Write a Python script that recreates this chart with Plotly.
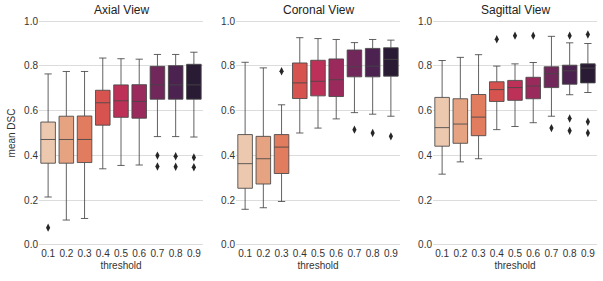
import plotly.graph_objects as go

thresholds = ["0.1", "0.2", "0.3", "0.4", "0.5", "0.6", "0.7", "0.8", "0.9"]
views = ["Axial View", "Coronal View", "Sagittal View"]

# Axial
axial_low = [0.214, 0.111, 0.118, 0.340, 0.355, 0.357, 0.484, 0.484, 0.482]
axial_q1 = [0.365, 0.365, 0.368, 0.535, 0.570, 0.566, 0.651, 0.651, 0.651]
axial_med = [0.471, 0.471, 0.471, 0.635, 0.644, 0.641, 0.715, 0.715, 0.715]
axial_q3 = [0.549, 0.575, 0.576, 0.691, 0.715, 0.716, 0.798, 0.801, 0.807]
axial_high = [0.764, 0.775, 0.775, 0.835, 0.832, 0.830, 0.851, 0.851, 0.861]
axial_out = [[0.077], [], [], [], [], [], [0.399, 0.350], [0.396, 0.349], [0.391, 0.347]]

# Coronal
coronal_low = [0.159, 0.166, 0.194, 0.500, 0.522, 0.563, 0.591, 0.584, 0.575]
coronal_q1 = [0.253, 0.272, 0.319, 0.654, 0.666, 0.663, 0.751, 0.751, 0.754]
coronal_med = [0.363, 0.385, 0.437, 0.724, 0.731, 0.738, 0.796, 0.799, 0.829]
coronal_q3 = [0.493, 0.485, 0.493, 0.813, 0.825, 0.831, 0.871, 0.878, 0.881]
coronal_high = [0.816, 0.791, 0.626, 0.926, 0.922, 0.918, 0.904, 0.918, 0.915]
coronal_out = [[], [], [0.776], [], [], [], [0.515], [0.500], [0.485]]

# Sagittal
sagittal_low = [0.316, 0.371, 0.385, 0.515, 0.529, 0.546, 0.575, 0.671, 0.681]
sagittal_q1 = [0.441, 0.454, 0.488, 0.641, 0.646, 0.653, 0.703, 0.718, 0.724]
sagittal_med = [0.524, 0.540, 0.571, 0.694, 0.703, 0.710, 0.765, 0.778, 0.790]
sagittal_q3 = [0.659, 0.653, 0.672, 0.729, 0.735, 0.749, 0.796, 0.803, 0.809]
sagittal_high = [0.824, 0.838, 0.850, 0.799, 0.809, 0.815, 0.932, 0.903, 0.900]
sagittal_out = [[], [], [], [0.919], [0.935], [0.935], [0.522], [0.935, 0.565, 0.510], [0.940, 0.550, 0.500]]

colors = ["#ECC8AE", "#E6A381", "#E17C5E", "#D6534F", "#BD3058",
          "#9B2A5C", "#72275B", "#4C2350", "#2A1B35"]

panels = [
    (axial_low, axial_q1, axial_med, axial_q3, axial_high, axial_out),
    (coronal_low, coronal_q1, coronal_med, coronal_q3, coronal_high, coronal_out),
    (sagittal_low, sagittal_q1, sagittal_med, sagittal_q3, sagittal_high, sagittal_out),
]

W, H = 603, 281
px_domains = [(39, 203), (236, 400), (433, 597)]

fig = go.Figure()
font_family = "Liberation Sans, Arial, sans-serif"

for p, (lo, q1, med, q3, hi, outs) in enumerate(panels):
    xa = "x" if p == 0 else f"x{p+1}"
    ya = "y" if p == 0 else f"y{p+1}"
    for i, t in enumerate(thresholds):
        fig.add_trace(go.Box(
            x=[t], q1=[q1[i]], median=[med[i]], q3=[q3[i]],
            lowerfence=[lo[i]], upperfence=[hi[i]],
            fillcolor=colors[i],
            line=dict(color="rgba(70,70,70,0.85)", width=1),
            width=0.8, whiskerwidth=0.5,
            boxpoints=False, showlegend=False, hoverinfo="skip",
            xaxis=xa, yaxis=ya,
        ))
        if outs[i]:
            fig.add_trace(go.Scatter(
                x=[t] * len(outs[i]), y=outs[i], mode="markers",
                marker=dict(symbol="diamond-tall", size=6, color="#262626"),
                showlegend=False, hoverinfo="skip", xaxis=xa, yaxis=ya,
            ))

layout = dict(
    width=W, height=H,
    margin=dict(l=0, r=0, t=20, b=35, autoexpand=False),
    paper_bgcolor="white", plot_bgcolor="white",
    boxmode="overlay",
    font=dict(family=font_family, size=10, color="#333333"),
    annotations=[],
)

for p in range(3):
    xk = "xaxis" if p == 0 else f"xaxis{p+1}"
    yk = "yaxis" if p == 0 else f"yaxis{p+1}"
    ya = "y" if p == 0 else f"y{p+1}"
    xa = "x" if p == 0 else f"x{p+1}"
    d0, d1 = px_domains[p]
    layout[xk] = dict(
        domain=[d0 / W, d1 / W], anchor=ya, automargin=False,
        type="category", categoryorder="array", categoryarray=thresholds,
        range=[-0.5, 8.5], showgrid=False, showline=False, zeroline=False,
        ticks="", ticklen=0, tickfont=dict(size=10, color="#333333"),
        title=dict(text="threshold", font=dict(size=10, color="#333333"), standoff=3),
    )
    layout[yk] = dict(
        domain=[0, 1], anchor=xa, automargin=False,
        range=[-0.005, 1.005], tickvals=[0, 0.2, 0.4, 0.6, 0.8, 1.0],
        ticktext=["0.0", "0.2", "0.4", "0.6", "0.8", "1.0"],
        showgrid=True, gridcolor="#DCDCDC", gridwidth=1.3,
        zeroline=False, showline=False, ticks="",
        tickfont=dict(size=10, color="#333333"),
    )
    if p == 0:
        layout[yk]["title"] = dict(text="mean DSC", font=dict(size=10, color="#333333"), standoff=6)
    layout["annotations"].append(dict(
        text=views[p], x=(d0 + d1) / 2 / W, y=1, xref="paper", yref="paper",
        xanchor="center", yanchor="bottom", yshift=1, showarrow=False,
        font=dict(size=12, color="#222222"),
    ))

fig.update_layout(**layout)
fig.write_html("out.html", config={"displayModeBar": False},
               post_script="document.body.style.margin='0';document.body.style.padding='0';")
